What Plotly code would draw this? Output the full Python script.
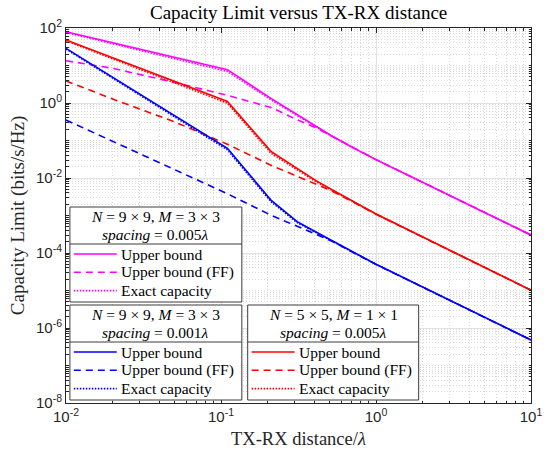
import plotly.graph_objects as go

# ---------------- data ----------------
d_ub = [0.01, 0.11, 0.21, 0.31, 0.41, 0.51, 0.71, 1.0, 10.0]
d_ff = [0.01, 0.02, 0.05, 0.11, 0.21, 0.31, 0.41, 0.51, 0.71, 1.0, 10.0]

# N=9x9, M=3x3, spacing 0.005 lambda (magenta)
mag_ub = [79.4, 7.76, 1.33, 0.490, 0.234, 0.138, 0.0646, 0.0309, 3.02e-4]
mag_ex = [75.9, 6.92, 1.22, 0.452, 0.222, 0.134, 0.0640, 0.0309, 3.02e-4]
mag_ff = [13.4, 8.41, 3.55, 1.60, 0.763, 0.358, 0.219, 0.135, 0.0640, 0.0309, 3.02e-4]

# N=5x5, M=1x1, spacing 0.005 lambda (red)
red_ub = [47.9, 1.10, 0.0513, 0.0182, 0.00851, 0.00513, 0.00240, 0.00110, 1.02e-5]
red_ex = [45.7, 0.98, 0.0457, 0.0166, 0.00794, 0.00490, 0.00234, 0.00110, 1.02e-5]
red_ff = [3.89, 1.28, 0.316, 0.0794, 0.0219, 0.0110, 0.00676, 0.00468, 0.00229, 0.00108, 1.02e-5]

# N=9x9, M=3x3, spacing 0.001 lambda (blue)
blu_ub = [28.6, 0.0617, 0.00257, 6.84e-4, 3.63e-4, 2.24e-4, 1.05e-4, 5.01e-5, 4.79e-7]
blu_ex = [27.5, 0.0562, 0.00234, 6.46e-4, 3.51e-4, 2.21e-4, 1.05e-4, 5.01e-5, 4.79e-7]
blu_ff = [0.352, 0.0964, 0.0170, 0.00380, 0.00102, 5.01e-4, 3.16e-4, 2.14e-4, 1.04e-4, 4.95e-5, 4.79e-7]

entry_labels = ["Upper bound", "Upper bound (FF)", "Exact capacity"]
x_tickvals = [0.01, 0.1, 1, 10]
x_ticktext = ["10<sup>-2</sup>", "10<sup>-1</sup>", "10<sup>0</sup>", "10<sup>1</sup>"]
y_tickvals = [1e-8, 1e-6, 1e-4, 1e-2, 1, 1e2]
y_ticktext = ["10<sup>-8</sup>", "10<sup>-6</sup>", "10<sup>-4</sup>",
              "10<sup>-2</sup>", "10<sup>0</sup>", "10<sup>2</sup>"]

# ---------------- styling ----------------
MAG, RED, BLU = "#ff00ff", "#ff0000", "#0000ff"
LW = 1.6
DASH = "7px,5px"
DOT = "1.5px,1.5px"
SERIF = "Liberation Serif"
SANS = "Liberation Sans"
AX = "#262626"

W, H = 550, 450
L, R, T, B = 66, 8, 28, 47
PW, PH = W - L - R, H - T - B


def px(x):
    return (x - L) / PW


def py(y):
    return (H - B - y) / PH


fig = go.Figure()

groups = [
    (MAG, d_ub, mag_ub, d_ff, mag_ff, mag_ex),
    (RED, d_ub, red_ub, d_ff, red_ff, red_ex),
    (BLU, d_ub, blu_ub, d_ff, blu_ff, blu_ex),
]
for col, xu, yu, xf, yf, ye in groups:
    fig.add_trace(go.Scatter(x=xu, y=ye, mode="lines", showlegend=False,
                             line=dict(color=col, width=LW, dash=DOT)))
    fig.add_trace(go.Scatter(x=xf, y=yf, mode="lines", showlegend=False,
                             line=dict(color=col, width=LW, dash=DASH)))
    fig.add_trace(go.Scatter(x=xu, y=yu, mode="lines", showlegend=False,
                             line=dict(color=col, width=LW)))

# ---------------- legend boxes (drawn) ----------------
boxes = [
    (MAG, 70, 246, 207, 302,
     ["<i>N</i> = 9 × 9, <i>M</i> = 3 × 3", "<i>spacing</i> = 0.005<i>λ</i>"]),
    (BLU, 70, 246, 305, 400,
     ["<i>N</i> = 9 × 9, <i>M</i> = 3 × 3", "<i>spacing</i> = 0.001<i>λ</i>"]),
    (RED, 252, 427, 305, 400,
     ["<i>N</i> = 5 × 5, <i>M</i> = 1 × 1", "<i>spacing</i> = 0.005<i>λ</i>"]),
]
shapes = []
annotations = []
dashes = [None, DASH, DOT]
for col, x0, x1, top, bot, tl in boxes:
    sep = top + 37
    shapes.append(dict(type="rect", xref="paper", yref="paper",
                       x0=px(x0), x1=px(x1), y0=py(bot), y1=py(top),
                       fillcolor="white", line=dict(color="#3c3c3c", width=1),
                       layer="above"))
    shapes.append(dict(type="line", xref="paper", yref="paper",
                       x0=px(x0), x1=px(x1), y0=py(sep), y1=py(sep),
                       line=dict(color="#3c3c3c", width=1), layer="above"))
    cx = (x0 + x1) / 2
    for i, t in enumerate(tl):
        annotations.append(dict(xref="paper", yref="paper", x=px(cx), y=py(top + 9 + 18 * i),
                                text=t, showarrow=False, xanchor="center", yanchor="middle",
                                borderpad=0,
                                font=dict(family=SERIF, size=15.5, color="black")))
    for j, lab in enumerate(entry_labels):
        yy = sep + 10 + 18.3 * j
        ln = dict(color=col, width=LW)
        if dashes[j]:
            ln["dash"] = dashes[j]
        shapes.append(dict(type="line", xref="paper", yref="paper",
                           x0=px(x0 + 4), x1=px(x0 + 48), y0=py(yy), y1=py(yy),
                           line=ln, layer="above"))
        annotations.append(dict(xref="paper", yref="paper", x=px(x0 + 51), y=py(yy),
                                text=lab, showarrow=False, xanchor="left", yanchor="middle",
                                borderpad=0,
                                font=dict(family=SERIF, size=15.5, color="black")))

# title and axis labels
annotations.append(dict(xref="paper", yref="paper", x=0.5, y=py(13), text="Capacity Limit versus TX-RX distance",
                        showarrow=False, xanchor="center", yanchor="middle",
                        font=dict(family=SERIF, size=19, color="black")))
annotations.append(dict(xref="paper", yref="paper", x=0.5, y=py(439), text="TX-RX distance/<i>λ</i>",
                        showarrow=False, xanchor="center", yanchor="middle",
                        font=dict(family=SERIF, size=18.5, color=AX)))
annotations.append(dict(xref="paper", yref="paper", x=px(17), y=py(216), text="Capacity Limit (bits/s/Hz)",
                        showarrow=False, xanchor="center", yanchor="middle", textangle=-90,
                        font=dict(family=SERIF, size=19, color=AX)))

axis_common = dict(
    type="log", showline=True, linecolor=AX, linewidth=1, mirror="allticks",
    ticks="inside", ticklen=5, tickcolor=AX, tickwidth=1,
    showgrid=True, gridcolor="#e2e2e2", gridwidth=1, zeroline=False,
    tickfont=dict(family=SANS, size=15, color=AX), tickmode="array",
    ticklabeloverflow="allow",
    minor=dict(dtick="D1", ticks="inside", ticklen=2.5, tickcolor=AX,
               showgrid=True, gridcolor="#d9d9d9", griddash="1px,2px", gridwidth=1),
)

fig.update_layout(
    width=W, height=H, margin=dict(l=L, r=R, t=T, b=B),
    paper_bgcolor="white", plot_bgcolor="white",
    xaxis=dict(range=[-2, 1], tickvals=x_tickvals, ticktext=x_ticktext, **axis_common),
    yaxis=dict(range=[-8, 2], tickvals=y_tickvals, ticktext=y_ticktext, **axis_common),
    shapes=shapes, annotations=annotations, showlegend=False,
)

fig.write_html("out.html")
